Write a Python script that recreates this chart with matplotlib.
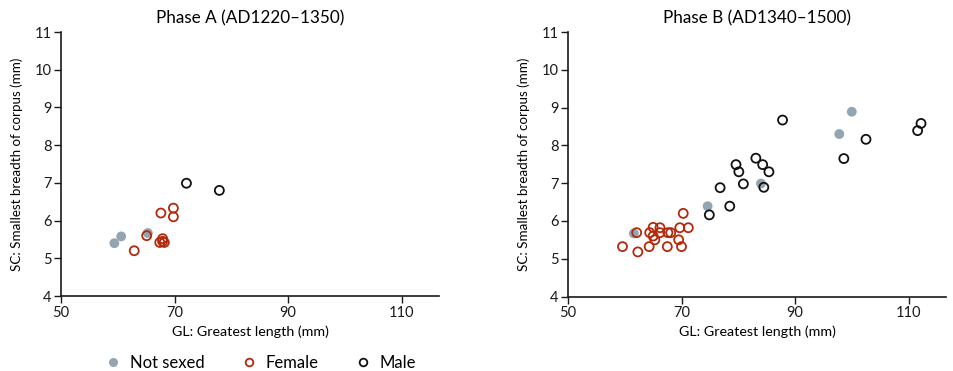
import matplotlib
matplotlib.use("Agg")
import matplotlib.pyplot as plt
from matplotlib.lines import Line2D

plt.rcParams['font.family'] = ['Lato', 'DejaVu Sans']

# Phase A data
a_ns_x = [59.4, 60.6, 65.3]
a_ns_y = [5.40, 5.58, 5.67]
a_f_x = [62.9, 65.1, 67.6, 69.8, 69.8, 67.9, 67.4, 68.2, 67.9]
a_f_y = [5.20, 5.60, 6.20, 6.33, 6.10, 5.52, 5.42, 5.42, 5.45]
a_m_x = [72.1, 77.9]
a_m_y = [6.99, 6.80]

# Phase B data
b_ns_x = [61.6, 74.6, 84.0, 97.8, 100.0]
b_ns_y = [5.67, 6.39, 6.99, 8.30, 8.89]
b_f_x = [59.6, 62.3, 62.1, 64.3, 64.4, 65.0, 65.0, 65.3, 66.2, 66.2,
         67.5, 67.6, 68.1, 69.5, 69.7, 70.0, 70.3, 71.2]
b_f_y = [5.32, 5.18, 5.69, 5.32, 5.69, 5.83, 5.60, 5.50, 5.82, 5.69,
         5.32, 5.69, 5.69, 5.50, 5.82, 5.32, 6.20, 5.82]
b_m_x = [74.9, 76.8, 78.5, 79.6, 80.1, 80.9, 83.1, 84.3, 85.4, 84.5,
         87.8, 98.6, 102.5, 111.6, 112.2]
b_m_y = [6.16, 6.88, 6.39, 7.49, 7.30, 6.98, 7.66, 7.49, 7.30, 6.89,
         8.67, 7.65, 8.16, 8.39, 8.58]

titles = ["Phase A (AD1220\u20131350)", "Phase B (AD1340\u20131500)"]
xticks = [50, 70, 90, 110]
yticks = [4, 5, 6, 7, 8, 9, 10, 11]

grey = '#93a5b2'
red = '#b3290c'
black = '#111111'

W, H = 954, 371
fig = plt.figure(figsize=(W / 100, H / 100), dpi=100)

def add_axes(left, right, top, bottom):
    return fig.add_axes([left / W, 1 - bottom / H, (right - left) / W, (bottom - top) / H])

axA = add_axes(61, 439, 32, 296)
axB = add_axes(568, 946, 32, 296.5)

datasets = [
    (axA, a_ns_x, a_ns_y, a_f_x, a_f_y, a_m_x, a_m_y),
    (axB, b_ns_x, b_ns_y, b_f_x, b_f_y, b_m_x, b_m_y),
]

for (ax, nsx, nsy, fx, fy, mx, my), title in zip(datasets, titles):
    ax.scatter(nsx, nsy, s=50, c=grey, edgecolors='none', zorder=2)
    ax.scatter(fx, fy, s=42, facecolors='none', edgecolors=red, linewidths=1.3, zorder=3)
    ax.scatter(mx, my, s=42, facecolors='none', edgecolors=black, linewidths=1.3, zorder=3)
    ax.set_xlim(50, 116.6)
    ax.set_ylim(4, 11)
    ax.set_xticks(xticks)
    ax.set_yticks(yticks)
    for s in ['top', 'right']:
        ax.spines[s].set_visible(False)
    for s in ['left', 'bottom']:
        ax.spines[s].set_linewidth(1.2)
        ax.spines[s].set_color('#1a1a1a')
    ax.tick_params(axis='both', length=5, width=1.0, labelsize=10.5, colors='#1a1a1a', pad=2)
    ax.set_title(title, fontsize=12.3, pad=6)
    ax.set_xlabel("GL: Greatest length (mm)", fontsize=10.3, labelpad=4)
    ax.set_ylabel("SC: Smallest breadth of corpus (mm)", fontsize=9.6, labelpad=8)

handles = [
    Line2D([], [], marker='o', linestyle='none', markersize=6.5, markerfacecolor=grey,
           markeredgecolor='none', label='Not sexed'),
    Line2D([], [], marker='o', linestyle='none', markersize=5.5, markerfacecolor='none',
           markeredgecolor=red, markeredgewidth=1.3, label='Female'),
    Line2D([], [], marker='o', linestyle='none', markersize=5.5, markerfacecolor='none',
           markeredgecolor=black, markeredgewidth=1.3, label='Male'),
]
fig.legend(handles=handles, loc='center left', bbox_to_anchor=(98 / W, 1 - 363 / H),
           ncol=3, frameon=False, fontsize=12, handletextpad=0.52, columnspacing=2.15,
           handlelength=1.0, borderaxespad=0)

fig.savefig('out.png', dpi=100)
